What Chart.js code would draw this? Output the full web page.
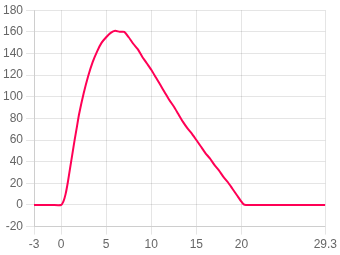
<!DOCTYPE html>
<html>
<head>
<meta charset="utf-8">
<script src="https://cdn.jsdelivr.net/npm/chart.js@4"></script>
<style>
    html, body { margin: 0; padding: 0; background: #fff; }
    #wrap { width: 340px; height: 255px; }
</style>
</head>
<body>
<div id="wrap"><canvas id="curveChart"></canvas></div>
<script>
// ค่าที่อ่านจากภาพ
const xValues = [-3, -2, -1, 0, 0.25, 0.5, 0.75, 1, 1.25, 1.5, 1.75, 2, 2.5, 3, 3.5, 4, 4.5, 5, 5.5, 6, 6.5, 7, 7.5, 8, 8.5, 9, 9.5, 10, 10.5, 11, 11.5, 12, 12.5, 13, 13.5, 14, 14.5, 15, 15.5, 16, 16.5, 17, 17.5, 18, 18.5, 19, 19.5, 20, 20.25, 20.5, 25, 29.3];
const yValues = [0, 0, 0, 0, 3, 10, 21, 34, 47, 60, 72, 84, 103, 119, 132, 142, 150, 155, 159, 161, 160, 160, 155, 149, 144, 137, 131, 125, 118, 111, 104, 97, 91, 84, 77, 71, 66, 60, 54, 48, 43, 37, 32, 26, 21, 15, 9, 3, 0.5, 0, 0, 0];
const xTicks = [-3, 0, 5, 10, 15, 20, 29.3];
const yMin = -20;
const yMax = 180;
const yStep = 20;

document.addEventListener("DOMContentLoaded", () => {
    const points = xValues.map((x, i) => ({ x: x, y: yValues[i] }));

    new Chart(document.getElementById("curveChart"), {
        type: 'line',
        data: {
            datasets: [{
                data: points,
                borderColor: '#ff0055',
                backgroundColor: '#ff0055',
                borderWidth: 2,
                pointRadius: 0,
                tension: 0.2,
                fill: false
            }]
        },
        options: {
            responsive: true,
            maintainAspectRatio: false,
            animation: false,
            plugins: {
                legend: { display: false },
                tooltip: { enabled: false }
            },
            scales: {
                x: {
                    type: 'linear',
                    min: xTicks[0],
                    max: xTicks[xTicks.length - 1],
                    afterBuildTicks: (axis) => {
                        axis.ticks = xTicks.map(v => ({ value: v }));
                    },
                    ticks: { color: '#666', maxRotation: 0 }
                },
                y: {
                    min: yMin,
                    max: yMax,
                    ticks: { stepSize: yStep, color: '#666' }
                }
            }
        }
    });
});
</script>
</body>
</html>
